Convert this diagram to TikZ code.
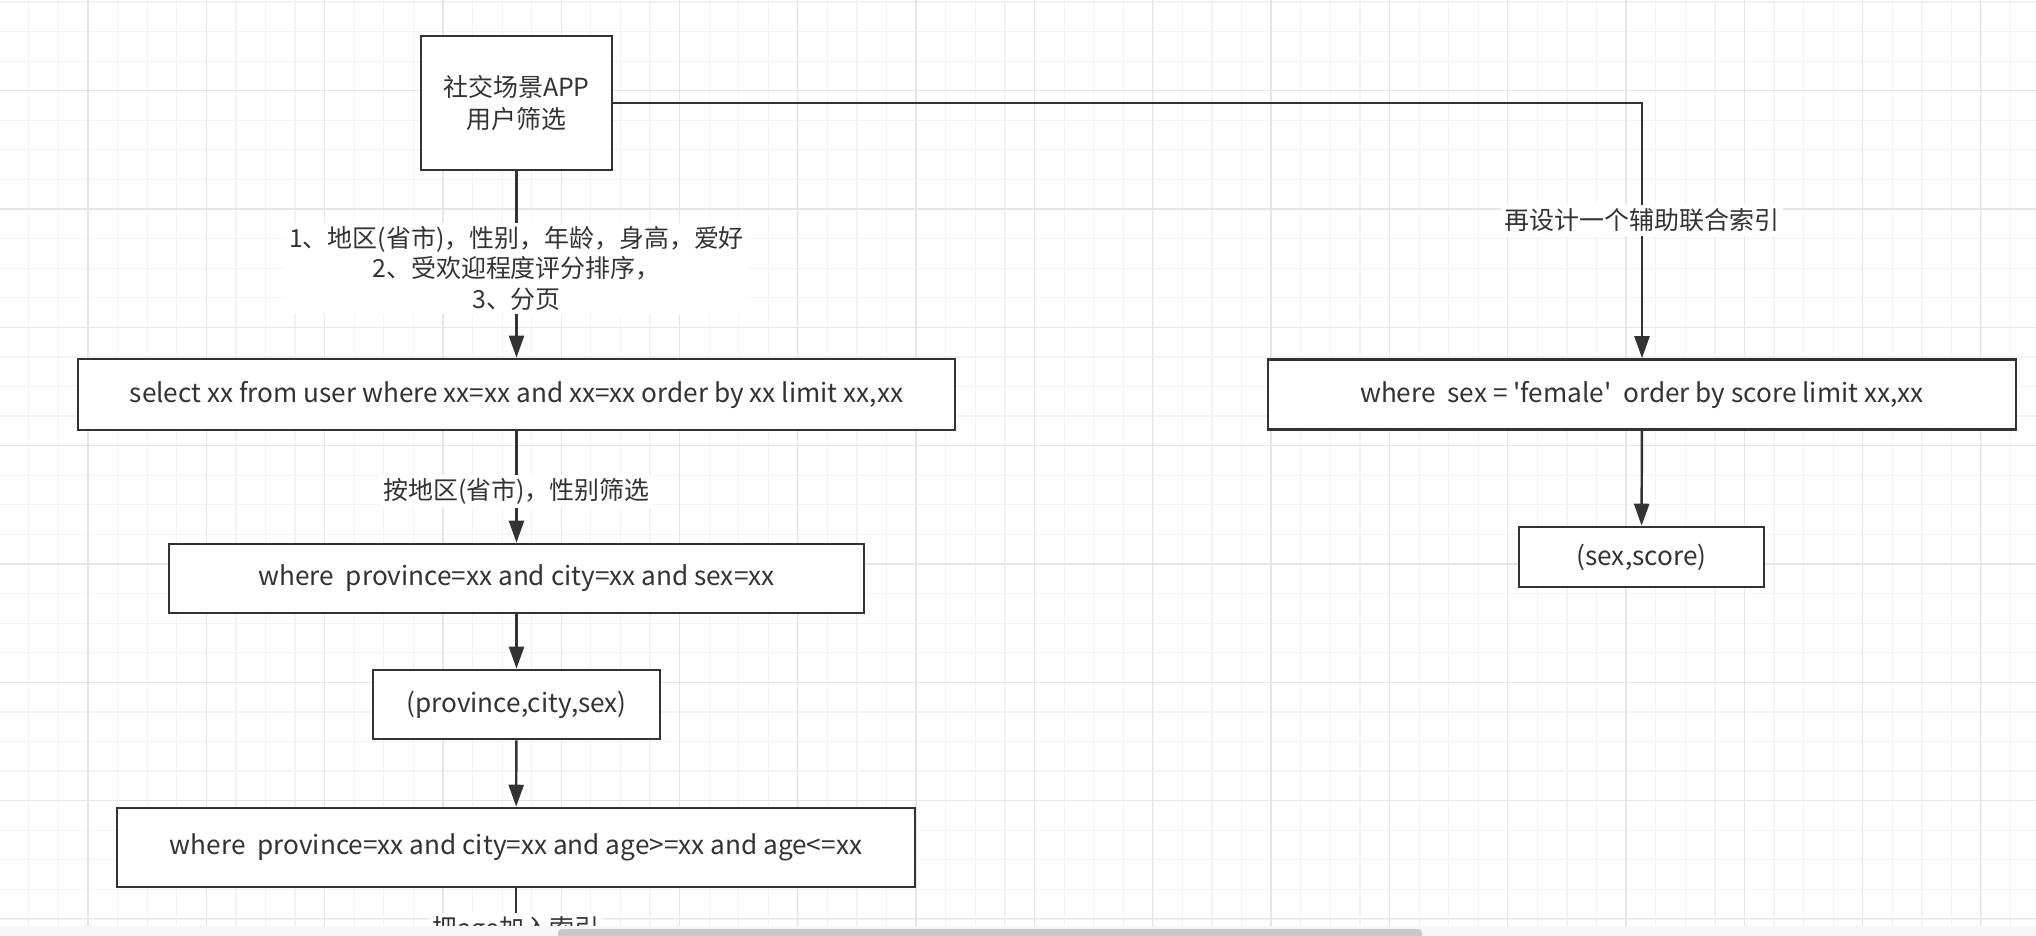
\documentclass[tikz,border=0pt]{standalone}
\usepackage{fontspec}
\setmainfont{Noto Sans CJK SC}
\usetikzlibrary{arrows.meta}

\definecolor{ink}{HTML}{333333}
\definecolor{gridminor}{HTML}{F3F3F3}
\definecolor{gridmajor}{HTML}{E6E6E6}
\definecolor{barcol}{HTML}{C8C8C8}
\newcommand{\cjksize}{\fontsize{14.2pt}{17.3pt}\selectfont}
\newcommand{\sqlsize}{\fontsize{14.9pt}{18pt}\selectfont}

\tikzset{
  box/.style={draw=ink, line width=1.5pt, fill=white, text=ink, inner sep=0pt, font=\sqlsize},
  conn/.style={draw=ink, line width=1.4pt, -{Triangle[length=12.5pt,width=8.5pt]}},
  lbl/.style={fill=white, text=ink, font=\cjksize, align=center, inner sep=2pt},
}

\begin{document}
\begin{tikzpicture}[x=0.02cm, y=-0.02cm]
    \useasboundingbox (0,0) rectangle (2036,936);
    \fill[white] (0,0) rectangle (2036,936);
    % background grid
    \foreach \gx in {28.85,58.43,...,2036} \draw[gridminor, line width=0.7pt] (\gx,0) -- (\gx,926);
    \foreach \gy in {1.98,31.56,...,926} \draw[gridminor, line width=0.7pt] (0,\gy) -- (2036,\gy);
    \foreach \gx in {88,206.3,...,2036} \draw[gridmajor, line width=0.7pt] (\gx,0) -- (\gx,926);
    \foreach \gy in {90.7,209,...,926} \draw[gridmajor, line width=0.7pt] (0,\gy) -- (2036,\gy);

    \node[box, minimum width=3.82cm, minimum height=2.68cm, align=center, font=\fontsize{14.2pt}{18.1pt}\selectfont] (app) at (516.5,103) {社交场景APP\\用户筛选};
    \node[box, minimum width=17.54cm, minimum height=1.42cm] (sel) at (516.5,394.5) {select xx from user where xx=xx and xx=xx order by xx limit xx,xx};
    \node[box, minimum width=13.9cm, minimum height=1.38cm] (cond1) at (516.5,578.5) {where\ \ province=xx and city=xx and sex=xx};
    \node[box, minimum width=5.74cm, minimum height=1.38cm] (idx1) at (516.5,704.5) {(province,city,sex)};
    \node[box, minimum width=15.96cm, minimum height=1.58cm] (cond2) at (516,847.5) {where\ \ province=xx and city=xx and age>=xx and age<=xx};
    \node[box, minimum width=14.96cm, minimum height=1.40cm] (cond3) at (1642,394.5) {where\ \ sex = \textquotesingle female\textquotesingle\ \ order by score limit xx,xx};
    \node[box, minimum width=4.9cm, minimum height=1.2cm] (idx2) at (1641.5,557) {(sex,score)};
    \coordinate (tail) at (516,1000);

    \draw[conn] (app) -- node[lbl, pos=0.52] {1、地区(省市)，性别，年龄，身高，爱好\\2、受欢迎程度评分排序，\\3、分页} (sel);
    \draw[conn] (sel) -- node[lbl, pos=0.54] {按地区(省市)，性别筛选} (cond1);
    \draw[conn] (cond1) -- (idx1);
    \draw[conn] (idx1) -- (cond2);
    \draw[ink, line width=1.4pt] (cond2) -- node[lbl, pos=0.37] {把age加入索引} (tail);
    \draw[conn] (app.east) -| node[lbl, pos=0.73] {再设计一个辅助联合索引} (cond3.north);
    \draw[conn] (cond3) -- (idx2);

    % window edge and scroll bar
    \fill[white!97!black] (0,926) rectangle (2036,936);
    \fill[barcol, rounded corners=2pt] (558,929) rectangle (1422,942);
\end{tikzpicture}
\end{document}
